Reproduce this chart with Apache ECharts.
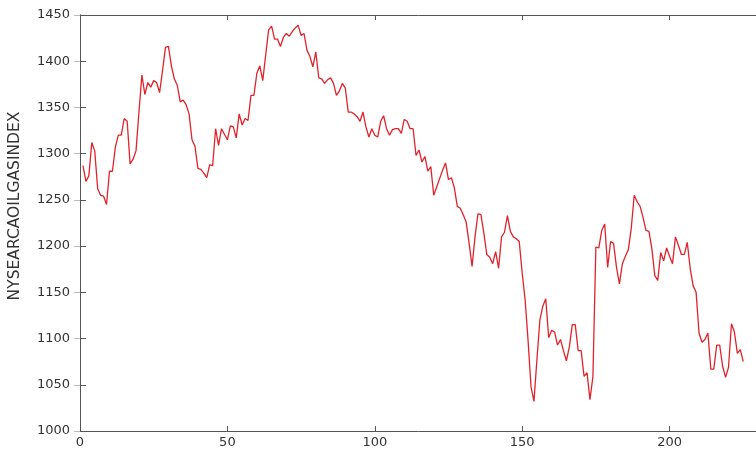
<!DOCTYPE html>
<html>
<head>
<meta charset="utf-8">
<script src="https://cdn.jsdelivr.net/npm/echarts@6/dist/echarts.min.js"></script>
<style>
html,body{margin:0;padding:0;background:#fff;}
#chart{width:756px;height:452px;}
</style>
</head>
<body>
<div id="chart"></div>
<script>
// ---- data ----
const yAxisTitle = 'NYSEARCAOILGASINDEX';
const xTicks = [0, 50, 100, 150, 200];
const yTicks = [1000, 1050, 1100, 1150, 1200, 1250, 1300, 1350, 1400, 1450];
const firstIndex = 1;
const indexValues = [
  1287, 1270, 1276, 1312, 1303, 1262, 1255, 1254, 1245, 1281,
  1281, 1307, 1320, 1320, 1338, 1335, 1289, 1294, 1303, 1345,
  1385, 1364, 1377, 1372, 1379, 1377, 1366, 1390, 1415, 1416,
  1395, 1381, 1374, 1356, 1358, 1353, 1343, 1315, 1308, 1284,
  1283, 1279, 1274, 1288, 1287, 1327, 1309, 1327, 1321, 1315,
  1330, 1329, 1317, 1343, 1331, 1338, 1336, 1363, 1363, 1387,
  1395, 1379, 1407, 1434, 1438, 1424, 1424, 1416, 1426, 1430,
  1427, 1432, 1436, 1439, 1428, 1430, 1412, 1405, 1394, 1410,
  1382, 1381, 1376, 1380, 1382, 1376, 1363, 1368, 1376, 1371,
  1345, 1345, 1343, 1340, 1335, 1345, 1329, 1318, 1327, 1320,
  1318, 1335, 1341, 1327, 1320, 1326, 1327, 1327, 1322, 1337,
  1335, 1327, 1327, 1298, 1304, 1291, 1297, 1281, 1286, 1255,
  1264, 1273, 1282, 1290, 1272, 1274, 1263, 1243, 1241, 1234,
  1226, 1203, 1178, 1210, 1235, 1234, 1214, 1191, 1188, 1181,
  1194, 1176, 1210, 1215, 1233, 1216, 1210, 1208, 1205, 1171,
  1142, 1098, 1048, 1032, 1077, 1120, 1135, 1143, 1101, 1109,
  1107, 1093, 1099, 1087, 1076, 1091, 1115, 1115, 1087, 1087,
  1059, 1063, 1034, 1059, 1199, 1198, 1217, 1224, 1177, 1205,
  1203, 1177, 1159, 1181, 1189, 1196, 1219, 1255, 1248, 1243,
  1231, 1217, 1216, 1197, 1168, 1163, 1193, 1184, 1198, 1189,
  1181, 1210, 1201, 1191, 1191, 1204, 1176, 1157, 1150, 1106,
  1096, 1099, 1106, 1067, 1067, 1093, 1093, 1070, 1058, 1069,
  1116, 1107, 1084, 1088, 1075
];

const seriesData = indexValues.map((v, k) => [firstIndex + k, v]);
const xMin = xTicks[0], xMax = 230, xStep = xTicks[1] - xTicks[0];
const yMin = yTicks[0], yMax = yTicks[yTicks.length - 1], yStep = yTicks[1] - yTicks[0];

const font = 'DejaVu Sans';
const axisColor = '#555';
const labelColor = '#333';
const plain = v => String(v);

const chart = echarts.init(document.getElementById('chart'), null, {renderer: 'canvas'});
chart.setOption({
  backgroundColor: '#ffffff',
  animation: false,
  grid: {left: 80, top: 15, width: 678, height: 416, containLabel: false, outerBoundsMode: 'none'},
  xAxis: [{
    type: 'value', min: xMin, max: xMax, interval: xStep, position: 'bottom',
    axisLine: {show: true, lineStyle: {color: axisColor, width: 1}},
    axisTick: {show: true, inside: true, length: 5, lineStyle: {color: axisColor}},
    axisLabel: {show: true, color: labelColor, fontFamily: font, fontSize: 13, margin: 5, showMaxLabel: false, formatter: plain},
    splitLine: {show: false}
  }, {
    type: 'value', min: xMin, max: xMax, interval: xStep, position: 'top',
    axisLine: {show: true, lineStyle: {color: axisColor, width: 1}},
    axisTick: {show: true, inside: true, length: 5, lineStyle: {color: axisColor}},
    axisLabel: {show: false},
    splitLine: {show: false}
  }],
  yAxis: [{
    type: 'value', min: yMin, max: yMax, interval: yStep, position: 'left',
    name: yAxisTitle, nameLocation: 'middle', nameRotate: 90, nameGap: 57,
    nameTextStyle: {color: labelColor, fontFamily: font, fontSize: 15.5, padding: [0, 0, 0, 34]},
    axisLine: {show: true, lineStyle: {color: axisColor, width: 1}},
    axisTick: {show: true, inside: true, length: 6, lineStyle: {color: axisColor}},
    axisLabel: {show: true, color: labelColor, fontFamily: font, fontSize: 13, margin: 10, formatter: plain},
    splitLine: {show: false}
  }, {
    type: 'value', min: yMin, max: yMax, interval: yStep, position: 'right',
    axisLine: {show: true, lineStyle: {color: axisColor, width: 1}},
    axisTick: {show: true, inside: true, length: 6, lineStyle: {color: '#bbb'}},
    axisLabel: {show: false},
    splitLine: {show: false}
  }],
  series: [{
    type: 'line',
    xAxisIndex: 0, yAxisIndex: 0,
    data: seriesData,
    showSymbol: false,
    symbol: 'none',
    lineStyle: {color: '#e0232b', width: 1.3},
    itemStyle: {color: '#e0232b'}
  }]
});
</script>
</body>
</html>
